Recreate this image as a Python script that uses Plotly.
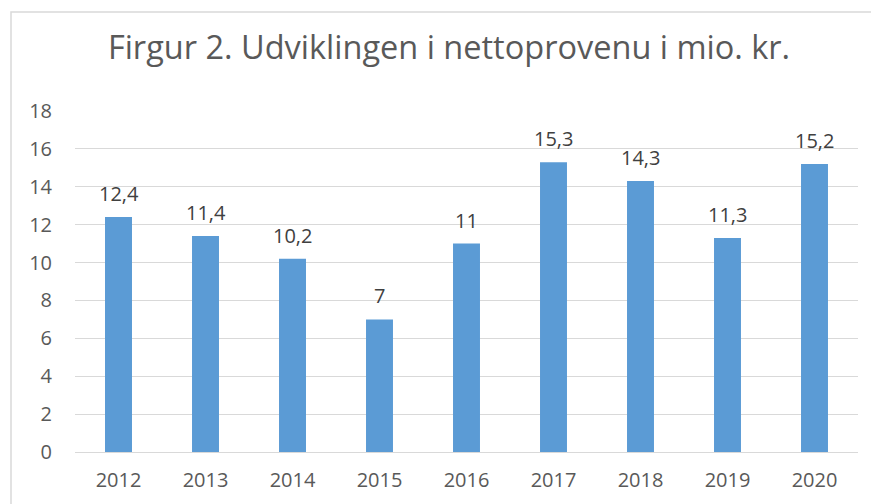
import plotly.graph_objects as go

years = ["2012", "2013", "2014", "2015", "2016", "2017", "2018", "2019", "2020"]
values = [12.4, 11.4, 10.2, 7, 11, 15.3, 14.3, 11.3, 15.2]
labels = ["12,4", "11,4", "10,2", "7", "11", "15,3", "14,3", "11,3", "15,2"]
y_ticks = [0, 2, 4, 6, 8, 10, 12, 14, 16, 18]

FONT = "Open Sans"
W, H = 871, 496  # page body has an 8px margin
L, R, T, B = 67, 21, 103, 52
PW, PH = W - L - R, H - T - B

fig = go.Figure()
fig.add_trace(go.Bar(
    x=years, y=values,
    marker=dict(color="#5B9BD5", line=dict(width=0)),
    hoverinfo="x+y",
))

annotations = []
for i, (v, lab) in enumerate(zip(values, labels)):
    annotations.append(dict(
        x=i, y=v, xref="x", yref="y", text=lab, showarrow=False,
        yanchor="bottom", yshift=8,
        font=dict(family=FONT, size=20, color="#404040"),
    ))

fig.update_layout(
    width=W, height=H,
    margin=dict(l=L, r=R, t=T, b=B, autoexpand=False),
    paper_bgcolor="white", plot_bgcolor="white",
    bargap=0.69,
    showlegend=False,
    title=dict(
        text="Firgur 2. Udviklingen i nettoprovenu i mio. kr.",
        x=(449 - 8) / W, xanchor="center", xref="container",
        y=1 - 40 / H, yanchor="middle", yref="container",
        font=dict(family=FONT, size=32.5, color="#595959"),
    ),
    xaxis=dict(
        type="category", range=[-0.5, len(years) - 0.5],
        tickfont=dict(family=FONT, size=20, color="#595959"),
        showgrid=False, showline=True, linecolor="#d9d9d9", linewidth=1,
        ticks="", ticklabelstandoff=10,
    ),
    yaxis=dict(
        range=[0, 18], tickvals=y_ticks,
        tickfont=dict(family=FONT, size=20, color="#595959"),
        showgrid=True, gridcolor="#d9d9d9", gridwidth=1,
        zeroline=True, zerolinecolor="#d9d9d9", zerolinewidth=1,
        showline=False, ticks="", ticklabelstandoff=22,
    ),
    annotations=annotations,
    shapes=[dict(
        type="rect", xref="paper", yref="paper",
        x0=(3 - L) / PW, x1=1.3, y0=-0.5, y1=(H - B - 4) / PH,
        line=dict(color="#d9d9d9", width=1.5), fillcolor="rgba(0,0,0,0)",
        layer="below",
    )],
)

fig.write_html("out.html")
